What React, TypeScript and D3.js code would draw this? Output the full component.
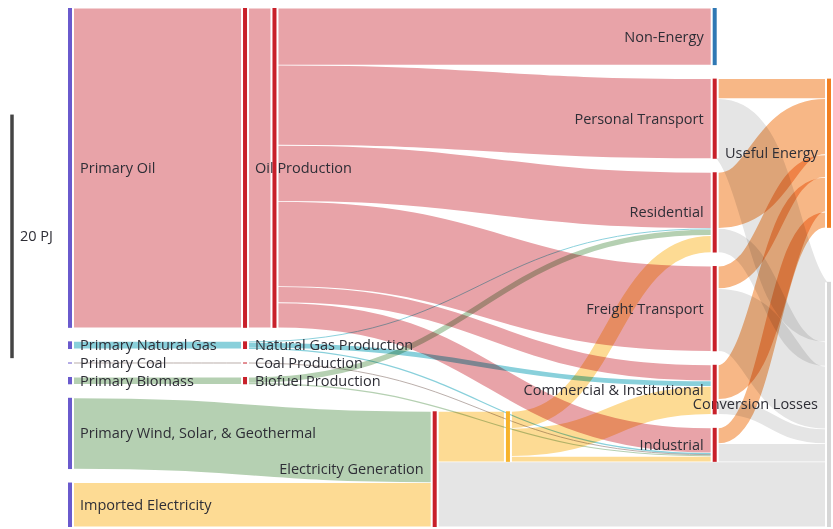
import * as d3 from 'd3'

type Flow = [string, string, number, string]

// energy flows in PJ: [source, target, value, carrier]
const supplyFlows: Flow[] = [
  ['Primary Oil', 'Oil Production', 26.26, 'oil'],
  ['Primary Natural Gas', 'Natural Gas Production', 0.63, 'gas'],
  ['Primary Coal', 'Coal Production', 0.08, 'coal'],
  ['Primary Biomass', 'Biofuel Production', 0.6, 'bio'],
  ['Primary Wind, Solar, & Geothermal', 'Electricity Generation', 5.85, 'bio'],
  ['Imported Electricity', 'Electricity Generation', 3.65, 'elec'],
]

const oilFlows: Flow[] = [
  ['Oil Production', 'Oil Refining', 26.26, 'oil'],
  ['Oil Refining', 'Non-Energy', 4.69, 'oil'],
  ['Oil Refining', 'Personal Transport', 6.58, 'oil'],
  ['Oil Refining', 'Residential', 4.61, 'oil'],
  ['Oil Refining', 'Freight Transport', 7.0, 'oil'],
  ['Oil Refining', 'Commercial & Institutional', 1.32, 'oil'],
  ['Oil Refining', 'Industrial', 2.06, 'oil'],
]

const gasFlows: Flow[] = [
  ['Natural Gas Production', 'Residential', 0.08, 'gas'],
  ['Natural Gas Production', 'Commercial & Institutional', 0.45, 'gas'],
  ['Natural Gas Production', 'Industrial', 0.1, 'gas'],
]

const coalFlows: Flow[] = [['Coal Production', 'Industrial', 0.08, 'coal']]

const biofuelFlows: Flow[] = [
  ['Biofuel Production', 'Residential', 0.5, 'bio'],
  ['Biofuel Production', 'Industrial', 0.1, 'bio'],
]

const electricityFlows: Flow[] = [
  ['Electricity Generation', 'Electricity Distribution', 4.15, 'elec'],
  ['Electricity Generation', 'Conversion Losses', 5.35, 'loss'],
  ['Electricity Distribution', 'Residential', 1.4, 'elec'],
  ['Electricity Distribution', 'Commercial & Institutional', 2.3, 'elec'],
  ['Electricity Distribution', 'Industrial', 0.45, 'elec'],
]

const endUseFlows: Flow[] = [
  ['Personal Transport', 'Useful Energy', 1.65, 'useful'],
  ['Personal Transport', 'Conversion Losses', 4.93, 'loss'],
  ['Residential', 'Useful Energy', 4.6, 'useful'],
  ['Residential', 'Conversion Losses', 1.99, 'loss'],
  ['Freight Transport', 'Useful Energy', 1.85, 'useful'],
  ['Freight Transport', 'Conversion Losses', 5.15, 'loss'],
  ['Commercial & Institutional', 'Useful Energy', 2.85, 'useful'],
  ['Commercial & Institutional', 'Conversion Losses', 1.22, 'loss'],
  ['Industrial', 'Useful Energy', 1.3, 'useful'],
  ['Industrial', 'Conversion Losses', 1.49, 'loss'],
]

// node columns, top to bottom
const columns: string[][] = [
  ['Primary Oil', 'Primary Natural Gas', 'Primary Coal', 'Primary Biomass', 'Primary Wind, Solar, & Geothermal', 'Imported Electricity'],
  ['Oil Production', 'Natural Gas Production', 'Coal Production', 'Biofuel Production'],
  ['Oil Refining'],
  ['Electricity Generation'],
  ['Electricity Distribution'],
  ['Non-Energy', 'Personal Transport', 'Residential', 'Freight Transport', 'Commercial & Institutional', 'Industrial'],
  ['Useful Energy', 'Conversion Losses'],
]

const unlabeled = new Set(['Oil Refining', 'Electricity Distribution'])
const scaleBarPJ = 20

// ---- layout settings ----
const W = 833
const H = 529
const margin = { top: 8, right: 2, bottom: 2, left: 68 }
const nodeW = 4
const nodePad = 13.5
const linkGap = 2
const columnX = [0, 0.2306, 0.2694, 0.4805, 0.577, 0.8494, 1]
const placement: Record<string, string> = {
  'Electricity Generation': 'bottom',
  'Electricity Distribution': 'source',
  'Useful Energy': 'source',
  'Conversion Losses': 'bottom',
}

const carrierColor: Record<string, string> = {
  oil: '#e8a3a8',
  gas: '#89d0db',
  coal: '#b8aca8',
  bio: '#b5d0b2',
  elec: '#fddb94',
  loss: '#e5e5e5',
  useful: '#f7b786',
}

const nodeColor = (name: string) => {
  if (name.startsWith('Primary') || name === 'Imported Electricity') return '#6a5acd'
  if (name === 'Non-Energy') return '#2f78b4'
  if (name === 'Electricity Distribution') return '#f7b32b'
  if (name === 'Useful Energy') return '#f07f23'
  if (name === 'Conversion Losses') return '#d6d6d6'
  return '#c8202a'
}

function computeLayout() {
  const flows = [...supplyFlows, ...oilFlows, ...gasFlows, ...coalFlows, ...biofuelFlows, ...electricityFlows, ...endUseFlows]
  const x = d3.scaleLinear().domain([0, 1]).range([margin.left, W - margin.right - nodeW])
  const nodes = new Map<string, any>()
  columns.forEach((col, ci) =>
    col.forEach(name => nodes.set(name, { name, ci, x0: x(columnX[ci]), inLinks: [], outLinks: [], value: 0, y0: 0, y1: 0 }))
  )
  const links = flows.map(([s, t, v, c], i) => ({ source: nodes.get(s), target: nodes.get(t), value: v, carrier: c, index: i, sy: 0, ty: 0 }))
  links.forEach(l => { l.source.outLinks.push(l); l.target.inLinks.push(l) })
  nodes.forEach(n => {
    n.value = Math.max(d3.sum(n.inLinks, (l: any) => l.value), d3.sum(n.outLinks, (l: any) => l.value))
  })
  const innerH = H - margin.top - margin.bottom
  const first = columns[0].map(n => nodes.get(n))
  const k = (innerH - (first.length - 1) * nodePad) / d3.sum(first, (n: any) => n.value)
  const center = (n: any) => (n.y0 + n.y1) / 2
  const sortIn = (n: any) => n.inLinks.sort((a: any, b: any) => center(a.source) - center(b.source) || a.index - b.index)

  columns.forEach(col => {
    let cursor = margin.top
    col.forEach(name => {
      const n = nodes.get(name)
      const h = n.value * k
      const mode = placement[name] ?? 'stack'
      if (mode === 'bottom') n.y0 = H - margin.bottom - h
      else if (mode === 'source') { sortIn(n); n.y0 = n.inLinks[0].sy }
      else { n.y0 = cursor; cursor = n.y0 + h + nodePad }
      n.y1 = n.y0 + h
      let y = n.y0
      n.outLinks.forEach((l: any) => { l.sy = y; y += l.value * k })
    })
  })
  nodes.forEach(n => {
    sortIn(n)
    let y = n.y0
    n.inLinks.forEach((l: any) => { l.ty = y; y += l.value * k })
  })
  return { nodes: [...nodes.values()], links, k }
}

export default function App() {
  const { nodes, links, k } = computeLayout()
  const linkPath = d3.linkHorizontal()
  const font = "'Open Sans', sans-serif"
  const fontSize = 14.5
  const barLen = scaleBarPJ * k
  const barMid = margin.top + (H - margin.top - margin.bottom) * 0.44

  return (
    <svg width={W} height={H} style={{ position: 'absolute', left: 0, top: 0, background: '#fff' }}>
      <g>
        {links.map((l: any) => {
          const w = l.value * k
          const d = linkPath({
            source: [l.source.x0 + nodeW + linkGap, l.sy + w / 2],
            target: [l.target.x0 - linkGap, l.ty + w / 2],
          } as any)
          return (
            <path key={l.index} d={d as string} fill="none" stroke={carrierColor[l.carrier]}
              strokeWidth={w > 2 ? w - 0.8 : w} style={{ mixBlendMode: 'multiply' }} />
          )
        })}
      </g>
      <g fontFamily={font} fontSize={fontSize} fill="#2e2e36">
        {nodes.filter((n: any) => !unlabeled.has(n.name)).map((n: any) => {
          const right = n.x0 > W / 2
          return (
            <text key={n.name} x={right ? n.x0 - 9 : n.x0 + nodeW + 8} y={(n.y0 + n.y1) / 2}
              dy="0.35em" textAnchor={right ? 'end' : 'start'}>{n.name}</text>
          )
        })}
      </g>
      <g>
        {nodes.map((n: any) => (
          <rect key={n.name} x={n.x0} y={n.y0} width={nodeW} height={Math.max(n.y1 - n.y0, 1)} fill={nodeColor(n.name)} />
        ))}
      </g>
      <g>
        <line x1={12} x2={12} y1={barMid - barLen / 2} y2={barMid + barLen / 2} stroke="#444" strokeWidth={3.5} />
        <text x={20} y={barMid} dy="0.35em" fontFamily={font} fontSize={fontSize} fill="#2e2e36">{scaleBarPJ} PJ</text>
      </g>
    </svg>
  )
}
